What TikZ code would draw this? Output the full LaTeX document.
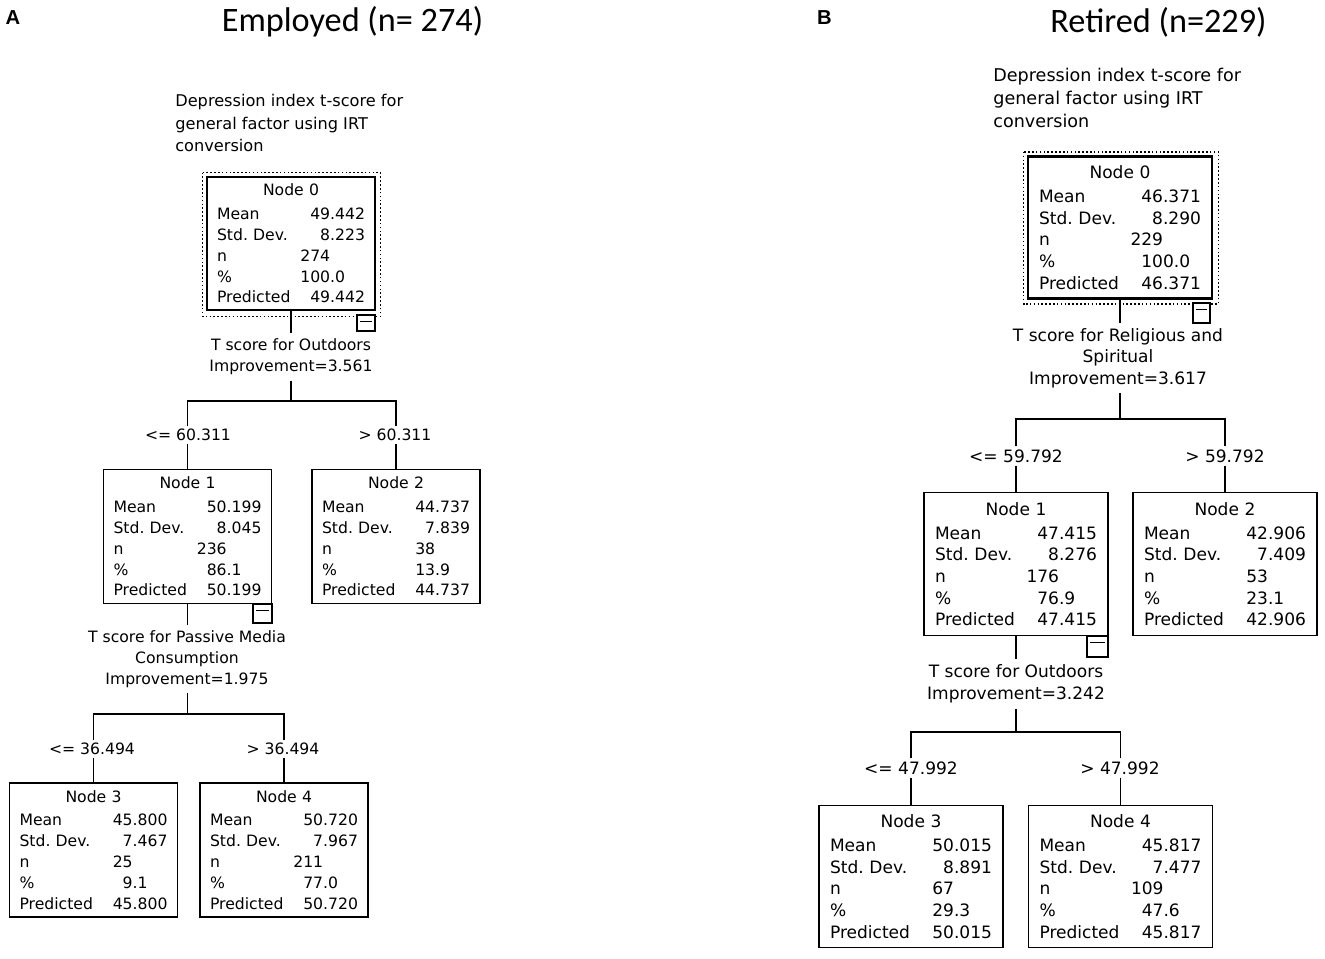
\documentclass[tikz,border=0pt]{standalone}
\usepackage{fontspec}
\newfontfamily\spss{DejaVu Sans}
\newfontfamily\ttlfont{Carlito}
\newfontfamily\panelfont{Liberation Sans}
\usetikzlibrary{calc}
\frenchspacing
\newcommand\rw[2]{\hbox to\hsize{#1\hfil#2}}
\newcommand\tl[1]{\hbox to\hsize{\hfil#1\hfil}\vskip 1.5pt}
\begin{document}
\begin{tikzpicture}[x=0.02cm,y=-0.02cm,
  every node/.style={inner sep=0pt},
  lfont/.style={font=\spss\frenchspacing\fontsize{8.9}{11.9}\selectfont},
  rfont/.style={font=\spss\frenchspacing\fontsize{9.7}{12.3}\selectfont},
  lbox/.style={lfont, draw, line width=0.8pt, minimum width=3.36cm, minimum height=2.68cm, text width=2.96cm},
  rbox/.style={rfont, draw, line width=0.8pt, minimum width=3.68cm, minimum height=2.85cm, text width=3.24cm},
  root/.style={line width=1.6pt},
  conn/.style={line width=0.8pt},
  dots/.style={line width=0.9pt, dash pattern=on 0.9pt off 1.3pt},
  split/.style={align=center, inner ysep=3pt},
  branch/.style={fill=white, inner xsep=1pt, inner ysep=2pt},
  minusbox/.style={draw, line width=0.8pt, fill=white,
    path picture={\draw[line width=0.8pt] ([shift={(3,6.5)}]path picture bounding box.north west) -- ([shift={(-3,6.5)}]path picture bounding box.north east);}},
  qlabel/.style={align=left, anchor=west},
  ttl/.style={font=\ttlfont\fontsize{19.5}{23}\selectfont},
  panel/.style={font=\panelfont\bfseries\fontsize{11.5}{13}\selectfont}
  ]
\useasboundingbox (0,0) rectangle (1325,958);

% ---------- titles ----------
\node[panel] (PA) at (13,18) {A};
\node[panel] (PB) at (824.5,18) {B};
\node[ttl] (TA) at (352.5,22) {Employed (n= 274)};
\node[ttl] (TB) at (1158.5,22) {Retired (n=229)};

% ---------- left tree ----------
\node[qlabel, font=\spss\fontsize{9.2}{13}\selectfont] (Lq) at (175,123)
  {Depression index t-score for\\general factor using IRT\\conversion};
\node[lbox, root, minimum height=2.66cm] (L0) at (291,243.5)
  {\tl{Node 0}\rw{Mean}{49.442}\rw{Std. Dev.}{8.223}\rw{n}{274\phantom{.000}}\rw{\%}{100.0\phantom{00}}\rw{Predicted}{49.442}};
\draw[dots] ($(L0.north west)+(-3,-3)$) rectangle ($(L0.south east)+(4,5)$);
\node[minusbox, minimum width=0.36cm, minimum height=0.32cm] (L0m) at (366,323) {};
\node[lfont, split] (Ls0) at (291,357) {T score for Outdoors\\Improvement=3.561};
\coordinate (Lb0) at (291,401);
\node[lbox] (L1) at (187.5,536.5)
  {\tl{Node 1}\rw{Mean}{50.199}\rw{Std. Dev.}{8.045}\rw{n}{236\phantom{.000}}\rw{\%}{86.1\phantom{00}}\rw{Predicted}{50.199}};
\node[lbox] (L2) at (396,536.5)
  {\tl{Node 2}\rw{Mean}{44.737}\rw{Std. Dev.}{7.839}\rw{n}{38\phantom{.000}}\rw{\%}{13.9\phantom{00}}\rw{Predicted}{44.737}};
\node[minusbox, minimum width=0.38cm, minimum height=0.38cm] (L1m) at (262.5,613.5) {};
\node[lfont, split] (Ls1) at (187,659) {T score for Passive Media\\Consumption\\Improvement=1.975};
\coordinate (Lb1) at (187.5,714);
\node[lbox] (L3) at (93.5,850)
  {\tl{Node 3}\rw{Mean}{45.800}\rw{Std. Dev.}{7.467}\rw{n}{25\phantom{.000}}\rw{\%}{9.1\phantom{00}}\rw{Predicted}{45.800}};
\node[lbox] (L4) at (284,850)
  {\tl{Node 4}\rw{Mean}{50.720}\rw{Std. Dev.}{7.967}\rw{n}{211\phantom{.000}}\rw{\%}{77.0\phantom{00}}\rw{Predicted}{50.720}};

\draw[conn] (L0.south) -- (L0.south |- Ls0.north);
\draw[conn] (Lb0 |- Ls0.south) -- (Lb0);
\draw[conn] (L1.north) |- (Lb0) -| (L2.north);
\draw[conn] (L1.south) -- (L1.south |- Ls1.north);
\draw[conn] (Lb1 |- Ls1.south) -- (Lb1);
\draw[conn] (L3.north) |- (Lb1) -| (L4.north);
\node[lfont, branch] (Lc1) at (188,435) {<= 60.311};
\node[lfont, branch] (Lc2) at (395,435) {> 60.311};
\node[lfont, branch] (Lc3) at (92,749) {<= 36.494};
\node[lfont, branch] (Lc4) at (283,749) {> 36.494};

% ---------- right tree ----------
\node[qlabel, font=\spss\fontsize{10}{13.3}\selectfont] (Rq) at (993,98)
  {Depression index t-score for\\general factor using IRT\\conversion};
\node[rbox, root] (R0) at (1120,227.5)
  {\tl{Node 0}\rw{Mean}{46.371}\rw{Std. Dev.}{8.290}\rw{n}{229\phantom{.000}}\rw{\%}{100.0\phantom{0}}\rw{Predicted}{46.371}};
\draw[dots] ($(R0.north west)+(-3,-3)$) rectangle ($(R0.south east)+(5,4)$);
\node[minusbox, minimum width=0.34cm, minimum height=0.40cm] (R0m) at (1201.5,313) {};
\node[rfont, split] (Rs0) at (1118,358) {T score for Religious and\\Spiritual\\Improvement=3.617};
\coordinate (Rb0) at (1120,419);
\node[rbox] (R1) at (1016,564)
  {\tl{Node 1}\rw{Mean}{47.415}\rw{Std. Dev.}{8.276}\rw{n}{176\phantom{.000}}\rw{\%}{76.9\phantom{00}}\rw{Predicted}{47.415}};
\node[rbox] (R2) at (1225,564)
  {\tl{Node 2}\rw{Mean}{42.906}\rw{Std. Dev.}{7.409}\rw{n}{53\phantom{.000}}\rw{\%}{23.1\phantom{00}}\rw{Predicted}{42.906}};
\node[minusbox, minimum width=0.42cm, minimum height=0.42cm] (R1m) at (1097.5,646.5) {};
\node[rfont, split] (Rs1) at (1016,684) {T score for Outdoors\\Improvement=3.242};
\coordinate (Rb1) at (1016,732);
\node[rbox] (R3) at (911,876.5)
  {\tl{Node 3}\rw{Mean}{50.015}\rw{Std. Dev.}{8.891}\rw{n}{67\phantom{.000}}\rw{\%}{29.3\phantom{00}}\rw{Predicted}{50.015}};
\node[rbox] (R4) at (1120.5,876.5)
  {\tl{Node 4}\rw{Mean}{45.817}\rw{Std. Dev.}{7.477}\rw{n}{109\phantom{.000}}\rw{\%}{47.6\phantom{00}}\rw{Predicted}{45.817}};

\draw[conn] (R0.south) -- (R0.south |- Rs0.north);
\draw[conn] (Rb0 |- Rs0.south) -- (Rb0);
\draw[conn] (R1.north) |- (Rb0) -| (R2.north);
\draw[conn] (R1.south) -- (R1.south |- Rs1.north);
\draw[conn] (Rb1 |- Rs1.south) -- (Rb1);
\draw[conn] (R3.north) |- (Rb1) -| (R4.north);
\node[rfont, branch] (Rc1) at (1016,456) {<= 59.792};
\node[rfont, branch] (Rc2) at (1225,456) {> 59.792};
\node[rfont, branch] (Rc3) at (911,768) {<= 47.992};
\node[rfont, branch] (Rc4) at (1120,768) {> 47.992};
\end{tikzpicture}
\end{document}
